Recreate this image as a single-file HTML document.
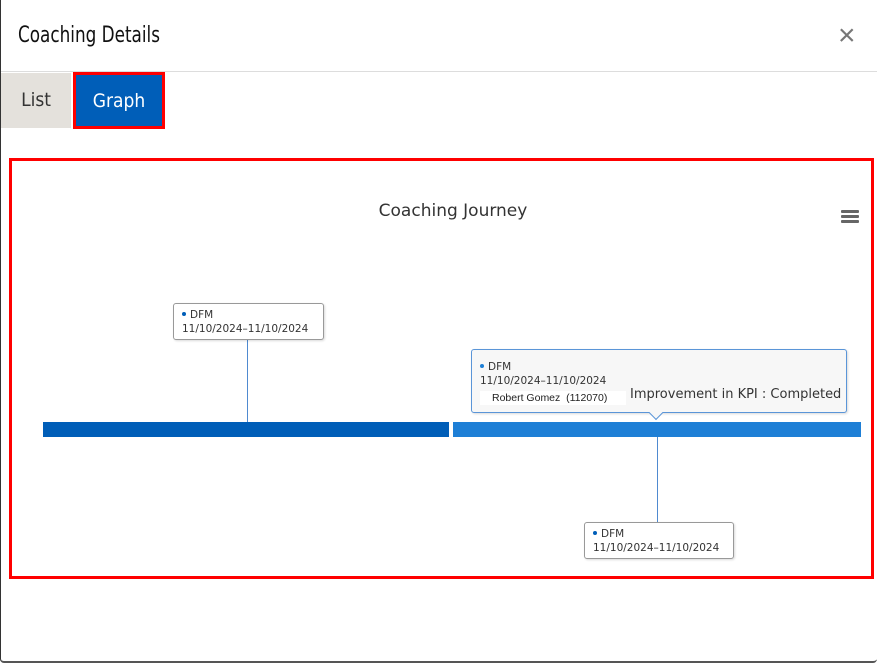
<!DOCTYPE html>
<html><head><style>
*{margin:0;padding:0;box-sizing:border-box}
body{width:877px;height:663px;background:#fff;position:relative;overflow:hidden;font-family:"Liberation Sans",sans-serif}
.a{position:absolute}
.cd{font-family:"DejaVu Sans Condensed","Liberation Sans Narrow","Liberation Sans",sans-serif}
.box{position:absolute;background:#fff;border:1px solid #999;border-radius:3px;box-shadow:1px 1px 2px rgba(0,0,0,.15);font-family:"DejaVu Sans",sans-serif;font-size:10.5px;color:#333;line-height:14px;padding:4px 0 0 8px}
.dot{display:inline-block;width:4px;height:4px;border-radius:50%;background:#005eb8;margin-right:4px;vertical-align:2px}
</style></head><body>
<div class="a" style="left:0;top:0;width:877px;height:663px;border-left:1px solid #333;border-bottom:2px solid #555;border-radius:0 0 4px 4px"></div>
<div class="a cd" style="left:18px;top:23px;font-size:22px;color:#111;transform:scaleX(.85);transform-origin:left">Coaching Details</div>
<div class="a" style="left:838px;top:21px;font-size:30px;color:#777;line-height:30px">×</div>
<div class="a" style="left:1px;top:71px;width:876px;height:1px;background:#ddd"></div>
<div class="a cd" style="left:1px;top:73px;width:70px;height:55px;background:#e4e1dc;color:#333;font-size:19px;line-height:55px;text-align:center">List</div>
<div class="a cd" style="left:73px;top:72px;width:92px;height:57px;background:#005eb8;border:3px solid #f00;color:#fff;font-size:19px;line-height:53px;text-align:center">Graph</div>
<div class="a" style="left:9px;top:158px;width:865px;height:421px;border:3px solid #f00"></div>
<div class="a" style="left:0;top:201px;width:906px;text-align:center;font-family:'DejaVu Sans',sans-serif;font-size:17px;color:#333">Coaching Journey</div>
<div class="a" style="left:841px;top:210px;width:18px;height:3px;background:#666;border-radius:1px"></div>
<div class="a" style="left:841px;top:215px;width:18px;height:3px;background:#666;border-radius:1px"></div>
<div class="a" style="left:841px;top:220px;width:18px;height:3px;background:#666;border-radius:1px"></div>
<div class="a" style="left:43px;top:422px;width:406px;height:15px;background:#005eb8"></div>
<div class="a" style="left:453px;top:422px;width:408px;height:15px;background:#1e7fd6"></div>
<div class="a" style="left:247px;top:340px;width:1px;height:82px;background:#4f8ad0"></div>
<div class="a" style="left:657px;top:437px;width:1px;height:85px;background:#4f8ad0"></div>
<div class="box" style="left:173px;top:303px;width:151px;height:37px"><span class="dot"></span>DFM<br>11/10/2024–11/10/2024</div>
<div class="box" style="left:584px;top:522px;width:150px;height:37px"><span class="dot"></span>DFM<br>11/10/2024–11/10/2024</div>
<div class="box" style="left:471px;top:349px;width:376px;height:64px;background:#f7f7f7;border-color:#5a95d8;padding-top:10px"><span class="dot" style="background:#1e7fd6"></span>DFM<br>11/10/2024–11/10/2024
<div class="a" style="left:8px;top:41px;width:146px;height:14px;background:#fff;font-family:'Liberation Sans',sans-serif;font-size:10.5px;color:#222;padding-left:12px;line-height:14px">Robert Gomez&nbsp; (112070)</div>
<div class="a" style="left:158px;top:38px;font-size:13px;color:#333">Improvement in KPI : Completed</div></div>
<div class="a" style="left:651px;top:408px;width:10px;height:10px;background:#f7f7f7;border-right:1px solid #5a95d8;border-bottom:1px solid #5a95d8;transform:rotate(45deg)"></div>
</body></html>
